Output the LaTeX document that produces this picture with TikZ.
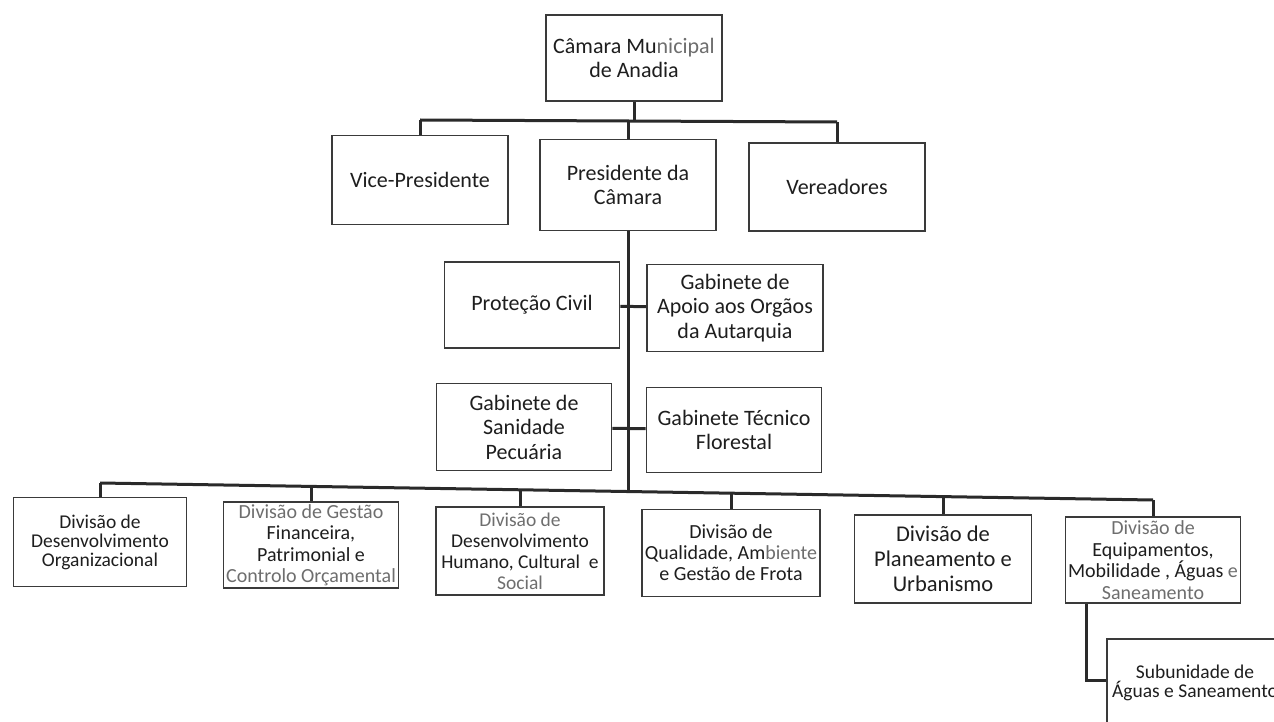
\documentclass[tikz,border=0pt]{standalone}
\usepackage{fontspec}
\setmainfont{Carlito}
\definecolor{boxc}{HTML}{3A3A3A}
\definecolor{linec}{HTML}{2A2A2A}
\definecolor{txt}{HTML}{1E1E1E}
\definecolor{fade}{HTML}{6E6E6E}
\begin{document}
\begin{tikzpicture}[x=1pt,y=-1pt,
  box/.style={draw=boxc, line width=1.6pt, fill=white, minimum width=176pt,
    minimum height=88pt, inner sep=0pt, align=center, text=txt},
  big/.style={font=\fontsize{22}{24.5}\selectfont},
  mid/.style={font=\fontsize{20}{21.5}\selectfont},
  sml/.style={font=\fontsize{19.5}{19}\selectfont},
  conn/.style={draw=linec, line width=3pt}]
\useasboundingbox (0,0) rectangle (1274,722);
\clip (0,0) rectangle (1274,722);
\fill[white] (0,0) rectangle (1274,722);

% top levels
\node[box,big,minimum height=86pt] (cam) at (634,58) {Câmara Mu\textcolor{fade}{nicipal}\\de Anadia};
\node[box,big,minimum height=89pt] (vice) at (420,180) {Vice-Presidente};
\node[box,big,minimum height=91pt] (pres) at (628,185) {Presidente da\\Câmara};
\node[box,big,minimum height=88pt] (ver) at (837,187) {Vereadores};

% gabinetes
\node[box,big,minimum width=175pt,minimum height=86pt] (prot) at (532,305) {Proteção Civil};
\node[box,big,minimum height=87pt] (gapo) at (735,308) {Gabinete de\\Apoio aos Orgãos\\da Autarquia};
\node[box,big,minimum width=175pt,minimum height=87pt] (san) at (524,427) {Gabinete de\\Sanidade\\Pecuária};
\node[box,big,minimum width=175pt,minimum height=85pt] (tec) at (734,430) {Gabinete Técnico\\Florestal};

% divisions
\node[box,sml,minimum width=173pt,minimum height=89pt] (div1) at (100,542) {Divisão de\\Desenvolvimento\\Organizacional};
\node[box,mid,minimum width=175pt,minimum height=86pt] (div2) at (311,545) {\textcolor{fade}{Divisão de Gestão}\\Financeira,\\Patrimonial e\\\textcolor{fade}{Controlo Orçamental}};
\node[box,font=\fontsize{19.5}{21}\selectfont,minimum width=168pt,minimum height=88pt] (div3) at (520,551) {\textcolor{fade}{Divisão de}\\Desenvolvimento\\Humano, Cultural\ \ e\\\textcolor{fade}{Social}};
\node[box,font=\fontsize{20}{21}\selectfont,minimum width=178pt,minimum height=87pt] (div4) at (731,553) {Divisão de\\Qualidade, Am\textcolor{fade}{biente}\\e Gestão de Frota};
\node[box,font=\fontsize{22.5}{25}\selectfont,minimum width=177pt,minimum height=88pt] (div5) at (943,559) {Divisão de\\Planeamento e\\Urbanismo};
\node[box,mid,minimum width=175pt,minimum height=86pt] (div6) at (1153,560) {\textcolor{fade}{Divisão de}\\Equipamentos,\\Mobilidade , Águas \textcolor{fade}{e}\\\textcolor{fade}{Saneamento}};
\node[box,sml,minimum width=176pt,minimum height=88pt] (sub) at (1195,683) {Subunidade de\\Águas e Saneamento};

% bus coordinates
\coordinate (b1L) at (420,120);
\coordinate (b1R) at (837,122);
\coordinate (bS) at (628,491.5);
\coordinate (d1) at (100,483);
\coordinate (d2) at (311,486.4);
\coordinate (d3) at (520,489.8);
\coordinate (d4) at (731,493.2);
\coordinate (d5) at (943,496.6);
\coordinate (d6) at (1153,500);
\coordinate (s1) at (1086,680);

% connectors level 1
\draw[conn] (b1L) -- (b1R);
\draw[conn] (cam.south) -- (cam.south |- b1L);
\draw[conn] (vice.north) -- (b1L);
\draw[conn] (pres.north) -- (pres.north |- b1L);
\draw[conn] (ver.north) -- (b1R);
% main stem
\draw[conn] (pres.south) -- (bS);
\draw[conn] (prot) -- (gapo);
\draw[conn] (san) -- (tec);
% level 2 bus
\draw[conn] (d1) -- (d6);
\draw[conn] (d1) -- (d1 |- div1.north);
\draw[conn] (d2) -- (d2 |- div2.north);
\draw[conn] (d3) -- (d3 |- div3.north);
\draw[conn] (d4) -- (d4 |- div4.north);
\draw[conn] (d5) -- (d5 |- div5.north);
\draw[conn] (d6) -- (d6 |- div6.north);
% sub unit
\draw[conn] (div6.south -| s1) -- (s1) -- (s1 -| sub.west);
\end{tikzpicture}
\end{document}
